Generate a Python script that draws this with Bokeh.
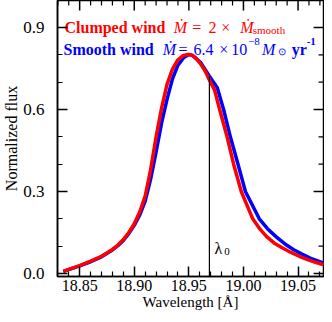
from bokeh.plotting import figure
from bokeh.models import Range1d, FixedTicker, ColumnDataSource
from bokeh.core.properties import value
from bokeh.embed import file_html
from bokeh.resources import INLINE

# ---- data ----
clumped_wl = [18.835, 18.85, 18.86, 18.87, 18.88, 18.885, 18.89, 18.895, 18.90, 18.905,
              18.910, 18.915, 18.920, 18.925, 18.930, 18.935, 18.940, 18.945, 18.949,
              18.9525, 18.956, 18.9606, 18.965, 18.9688, 18.9735, 18.9782, 18.985, 18.991,
              18.998, 19.0085, 19.015, 19.021, 19.028, 19.035, 19.043, 19.051, 19.060,
              19.066, 19.075, 19.083]
clumped_flux = [0.008, 0.029, 0.045, 0.063, 0.088, 0.104, 0.124, 0.150, 0.182, 0.225,
                0.283, 0.380, 0.500, 0.605, 0.692, 0.748, 0.782, 0.798, 0.801,
                0.799, 0.790, 0.768, 0.740, 0.708, 0.672, 0.600, 0.500, 0.400,
                0.300, 0.200, 0.163, 0.136, 0.112, 0.095, 0.078, 0.063, 0.049,
                0.041, 0.030, 0.021]

smooth_wl = [18.835, 18.85, 18.86, 18.87, 18.88, 18.885, 18.89, 18.895, 18.90, 18.905,
             18.910, 18.915, 18.920, 18.925, 18.930, 18.935, 18.940, 18.945, 18.950,
             18.953, 18.9606, 18.9688, 18.976, 18.9818, 18.988, 18.995, 19.0018, 19.0145,
             19.022, 19.030, 19.038, 19.046, 19.054, 19.063, 19.073, 19.083]
smooth_flux = [0.008, 0.028, 0.043, 0.061, 0.086, 0.102, 0.121, 0.146, 0.176, 0.214,
               0.265, 0.345, 0.445, 0.550, 0.637, 0.712, 0.762, 0.789, 0.801,
               0.799, 0.773, 0.722, 0.680, 0.600, 0.500, 0.400, 0.300, 0.200,
               0.164, 0.134, 0.108, 0.087, 0.070, 0.053, 0.039, 0.027]

lambda0 = 18.9688
lambda0_top = 0.722

x_ticks = [18.85, 18.90, 18.95, 19.00, 19.05]
x_tick_labels = ["18.85", "18.90", "18.95", "19.00", "19.05"]
x_minor = [18.83, 18.84, 18.86, 18.87, 18.88, 18.89, 18.91, 18.92, 18.93, 18.94,
           18.96, 18.97, 18.98, 18.99, 19.01, 19.02, 19.03, 19.04, 19.06, 19.07]
y_ticks = [0.0, 0.3, 0.6, 0.9]
y_tick_labels = ["0.0", "0.3", "0.6", "0.9"]
y_minor = [0.1, 0.2, 0.4, 0.5, 0.7, 0.8]

RED = "#ff0000"
BLUE = "#0000ff"
FONT = "Liberation Serif"

# ---- layout / style ----
W, H = 324, 314
BL, BR, BT, BB = 55, 1, 0, 38
X0, X1 = 18.8297, 19.0733
Y0, Y1 = -0.011, 0.9988
XPX = (W - BL - BR) / (X1 - X0)      # pixels per Angstrom
YPX = (H - BT - BB) / (Y1 - Y0)      # pixels per flux unit
MAJ, MIN = 10, 5                      # tick lengths in px

# annotation text runs: text, x, y, style, size, color
ann_text = ["Clumped wind", "Ṁ", "=", "2", "×", "Ṁ", "smooth",
            "Smooth wind", "Ṁ", "=", "6.4", "×", "10", "−8", "M", "⊙", "yr", "-1",
            "λ", "0"]
ann_x = [18.8361, 18.9361, 18.9532, 18.9679, 18.9797, 18.9970, 19.0085,
         18.8352, 18.9261, 18.9406, 18.9543, 18.9779, 18.9888, 19.0043, 19.0170, 19.0315, 19.0443, 19.0579,
         18.9734, 18.9825]
ann_y = [0.899, 0.899, 0.899, 0.899, 0.899, 0.899, 0.892,
         0.819, 0.819, 0.819, 0.819, 0.819, 0.819, 0.848, 0.819, 0.811, 0.819, 0.848,
         0.0915, 0.0805]
ann_style = ["bold", "italic", "normal", "normal", "normal", "italic", "normal",
             "bold", "italic", "normal", "normal", "normal", "normal", "normal", "italic", "normal", "bold", "bold",
             "normal", "normal"]
ann_size = ["16px", "16px", "16px", "16px", "16px", "16px", "11px",
            "16px", "16px", "16px", "16px", "16px", "16px", "11px", "16px", "10px", "16px", "11px",
            "16px", "11px"]
ann_color = [RED] * 7 + [BLUE] * 11 + ["black", "black"]

p = figure(width=W, height=H,
           x_range=Range1d(X0, X1), y_range=Range1d(Y0, Y1),
           output_backend="svg", toolbar_location=None,
           min_border_left=BL, min_border_right=BR, min_border_top=BT, min_border_bottom=BB)
p.xgrid.visible = False
p.ygrid.visible = False
p.outline_line_color = "black"
p.outline_line_width = 1.5
p.background_fill_color = "white"
p.border_fill_color = "white"

def style_axis(ax, ticks, minor, labels):
    ax.ticker = FixedTicker(ticks=ticks, minor_ticks=minor)
    ax.major_label_overrides = {t: l for t, l in zip(ticks, labels)}
    ax.major_tick_in = MAJ
    ax.major_tick_out = 0
    ax.minor_tick_in = MIN
    ax.minor_tick_out = 0
    ax.major_tick_line_width = 1.5
    ax.minor_tick_line_width = 1.2
    ax.major_tick_line_color = "black"
    ax.minor_tick_line_color = "black"
    ax.axis_line_color = "black"
    ax.axis_line_width = 1.5
    ax.major_label_text_font = FONT
    ax.major_label_text_color = "black"
    ax.axis_label_text_font = FONT
    ax.axis_label_text_font_style = "normal"
    ax.axis_label_text_color = "black"

xa = p.xaxis[0]
style_axis(xa, x_ticks, x_minor, x_tick_labels)
xa.axis_label = "Wavelength [Å]"
xa.major_label_text_font_size = "16px"
xa.axis_label_text_font_size = "15px"
xa.major_label_standoff = 3
xa.axis_label_standoff = 0

ya = p.yaxis[0]
style_axis(ya, y_ticks, y_minor, y_tick_labels)
ya.axis_label = "Normalized flux"
ya.major_label_text_font_size = "17px"
ya.axis_label_text_font_size = "16px"
ya.major_label_standoff = 13
ya.axis_label_standoff = 0

# mirrored ticks on the top and right edges
p.segment(x0=x_ticks, y0=[Y1] * len(x_ticks), x1=x_ticks, y1=[Y1 - MAJ / YPX] * len(x_ticks),
          line_color="black", line_width=1.5)
p.segment(x0=x_minor, y0=[Y1] * len(x_minor), x1=x_minor, y1=[Y1 - MIN / YPX] * len(x_minor),
          line_color="black", line_width=1.2)
p.segment(x0=[X1] * len(y_ticks), y0=y_ticks, x1=[X1 - MAJ / XPX] * len(y_ticks), y1=y_ticks,
          line_color="black", line_width=1.5)
p.segment(x0=[X1] * len(y_minor), y0=y_minor, x1=[X1 - MIN / XPX] * len(y_minor), y1=y_minor,
          line_color="black", line_width=1.2)

p.line(smooth_wl, smooth_flux, line_color=BLUE, line_width=3.5, line_join="round")
p.line(clumped_wl, clumped_flux, line_color=RED, line_width=3.5, line_join="round")
p.segment(x0=[lambda0], y0=[Y0], x1=[lambda0], y1=[lambda0_top], line_color="black", line_width=1.2)

src = ColumnDataSource(dict(text=ann_text, x=ann_x, y=ann_y, style=ann_style, size=ann_size, color=ann_color))
p.text(x="x", y="y", text="text", source=src, text_font=value(FONT), text_font_style="style",
       text_font_size="size", text_color="color", text_baseline="alphabetic", text_align="left")

open("out.html", "w").write(file_html(p, INLINE))
